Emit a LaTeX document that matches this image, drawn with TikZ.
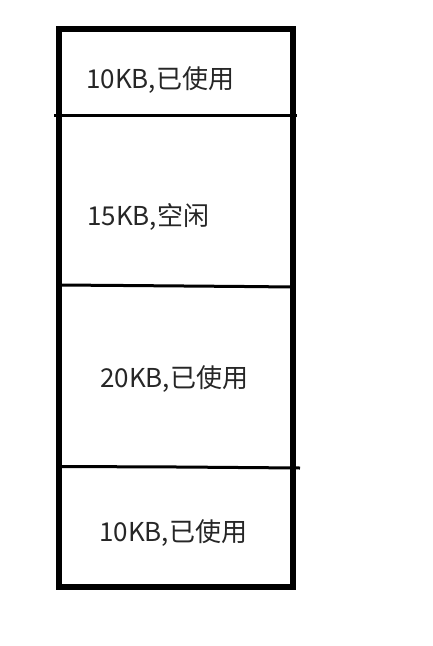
\documentclass[tikz,border=0pt]{standalone}
\usepackage{fontspec}
\newfontfamily\cjk{Noto Sans CJK SC}
\tikzset{
  lbl/.style={anchor=base west, inner sep=0pt, font=\cjk\fontsize{26}{28}\selectfont, text=black!85},
  divider/.style={line width=3pt, black},
  frame/.style={line width=6pt, black}
}
\begin{document}
\begin{tikzpicture}[x=1pt,y=-1pt]
\useasboundingbox (0,0) rectangle (433,646);
\coordinate (tl) at (59,29);
\coordinate (br) at (293,587);
\draw[frame] (tl) rectangle (br);
\coordinate (d1a) at (54,115);
\coordinate (d1b) at (297,115);
\coordinate (d2a) at (59,285);
\coordinate (d2m) at (124,285.5);
\coordinate (d2n) at (245,286.5);
\coordinate (d2b) at (293,287);
\coordinate (d3a) at (59,466.5);
\coordinate (d3m) at (178,467);
\coordinate (d3b) at (300,468);
\draw[divider] (d1a) -- (d1b);
\draw[divider] (d2a) -- (d2m) -- (d2n) -- (d2b);
\draw[divider] (d3a) -- (d3m) -- (d3b);
\node[lbl] (t1) at (86,88) {10KB,已使用};
\node[lbl] (t2) at (87,225) {15KB,空闲};
\node[lbl] (t3) at (100,387) {20KB,已使用};
\node[lbl] (t4) at (99,541) {10KB,已使用};
\end{tikzpicture}
\end{document}
